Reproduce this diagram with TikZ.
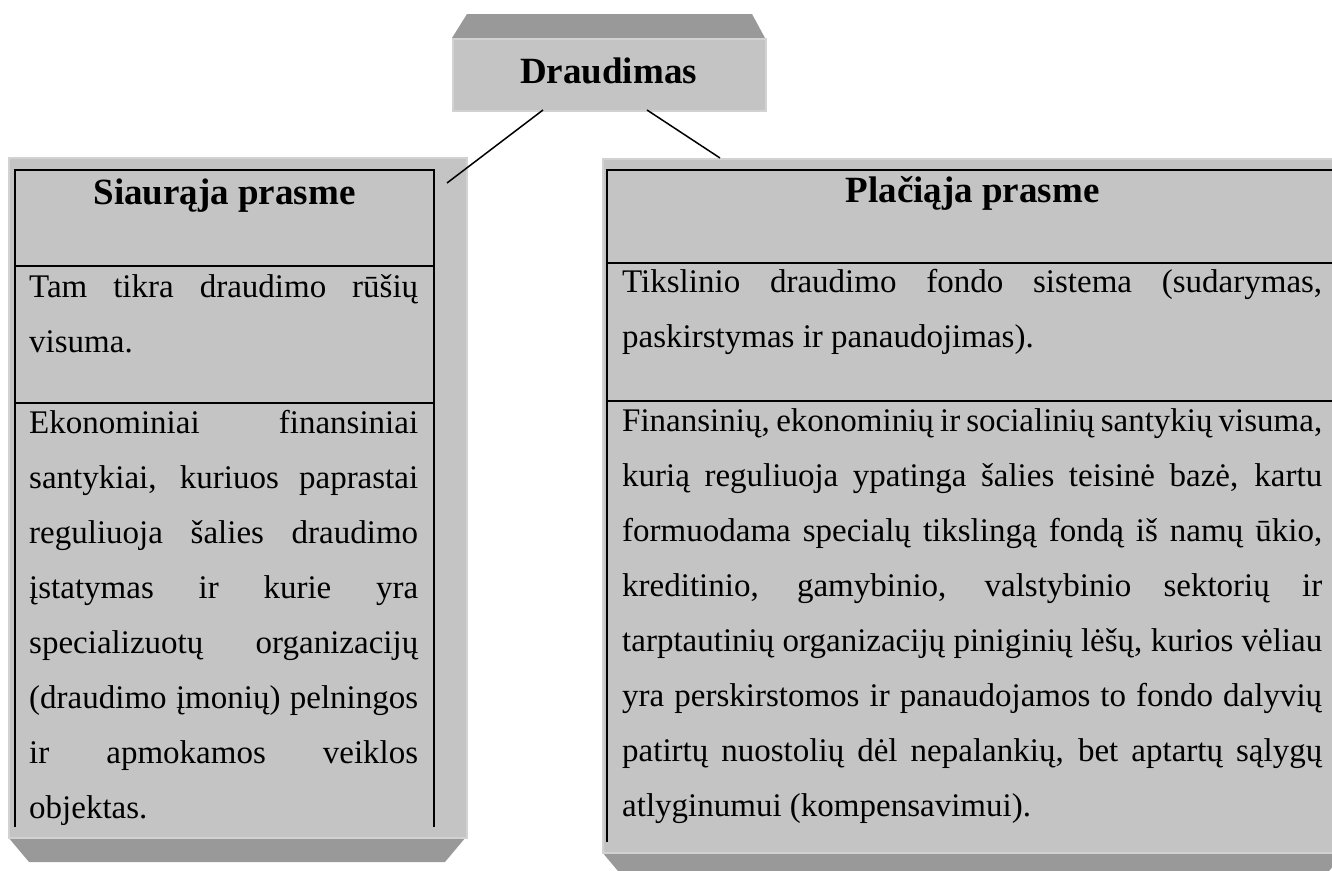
\documentclass[tikz,border=0pt]{standalone}
\usepackage{fontspec}
\setmainfont{Liberation Serif}
\definecolor{facegray}{HTML}{C4C4C4}
\definecolor{bevelgray}{HTML}{999999}
\definecolor{rimgray}{HTML}{D2D2D2}
\newcommand\bodyfnt{\fontsize{33}{55}\selectfont\hyphenpenalty=10000\exhyphenpenalty=10000\tolerance=10000\emergencystretch=0pt}
\newcommand\headfnt{\fontsize{37}{44}\selectfont\bfseries}
\tikzset{
  facebox/.style={fill=facegray, draw=rimgray, line width=1.5pt, inner sep=0pt, anchor=north west},
  bevelface/.style={fill=bevelgray},
  tableline/.style={draw=black, line width=2pt},
  connector/.style={draw=black, line width=1.5pt},
  bodytext/.style={anchor=base west, inner sep=0pt, align=justify, font=\bodyfnt},
  headtext/.style={anchor=base, inner sep=0pt, font=\headfnt},
}
\begin{document}
\begin{tikzpicture}[x=1pt,y=-1pt]
\useasboundingbox (0,0) rectangle (1332,870);
\clip (0,0) rectangle (1332,870);

% ---- top box ----
\fill[bevelface] (452,38) -- (467,14) -- (752,14) -- (765,38) -- cycle;
\node[facebox, minimum width=313pt, minimum height=72pt] (draud) at (452,38) {};
\node[headtext] (draudt) at (608.5,83) {Draudimas};

% ---- left box ----
\fill[bevelface] (8,837) -- (466,837) -- (445,862) -- (29,862) -- cycle;
\node[facebox, minimum width=458pt, minimum height=680pt] (lface) at (8,157) {};
\draw[tableline] (15,827) -- (15,170) -- (434,170) -- (434,827);
\draw[tableline] (15,266) -- (434,266);
\draw[tableline] (15,403) -- (434,403);
\node[headtext] (lhead) at (224.5,204) {Siaurąja prasme};
\node[bodytext, text width=389pt] (lrow1) at (29,297)
  {Tam tikra draudimo rūšių\linebreak visuma.};
\node[bodytext, text width=389pt] (lrow2) at (29,433)
  {Ekonominiai finansiniai\linebreak santykiai, kuriuos paprastai\linebreak reguliuoja šalies draudimo\linebreak įstatymas ir kurie yra\linebreak specializuotų organizacijų\linebreak (draudimo įmonių) pelningos\linebreak ir apmokamos veiklos\linebreak objektas.};

% ---- right box ----
\fill[bevelface] (602,852) -- (1345,852) -- (1324,877) -- (623,877) -- cycle;
\node[facebox, minimum width=743pt, minimum height=694pt] (rface) at (602,158) {};
\draw[tableline] (607,842) -- (607,170) -- (1338,170) -- (1338,842);
\draw[tableline] (607,263) -- (1338,263);
\draw[tableline] (607,401) -- (1338,401);
\node[headtext] (rhead) at (972.5,202) {Plačiąja prasme};
\node[bodytext, text width=700pt] (rrow1) at (622,292)
  {Tikslinio draudimo fondo sistema (sudarymas,\linebreak paskirstymas ir panaudojimas).};
\node[bodytext, text width=700pt] (rrow2) at (622,431)
  {Finansinių, ekonominių ir socialinių santykių visuma,\linebreak
   kurią reguliuoja ypatinga šalies teisinė bazė, kartu\linebreak
   formuodama specialų tikslingą fondą iš namų ūkio,\linebreak
   kreditinio, gamybinio, valstybinio sektorių ir\linebreak
   tarptautinių organizacijų piniginių lėšų, kurios vėliau\linebreak
   yra perskirstomos ir panaudojamos to fondo dalyvių\linebreak
   patirtų nuostolių dėl nepalankių, bet aptartų sąlygų\linebreak
   atlyginumui (kompensavimui).};

% ---- connectors ----
\coordinate (dL) at (543,110);
\coordinate (dR) at (647,110);
\coordinate (lEnd) at (447,183);
\coordinate (rEnd) at (720,158);
\draw[connector] (dL) -- (lEnd);
\draw[connector] (dR) -- (rEnd);
\end{tikzpicture}
\end{document}
